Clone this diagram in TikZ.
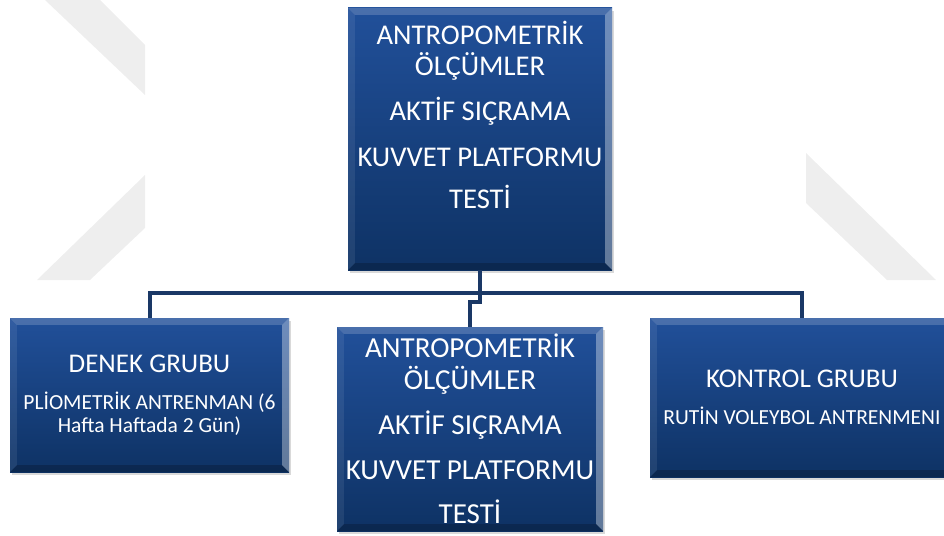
\documentclass[tikz,border=0pt]{standalone}
\usepackage{fontspec}
\setmainfont{Carlito}
\usetikzlibrary{positioning,calc,shadows}

\definecolor{boxtop}{HTML}{21509A}
\definecolor{boxbot}{HTML}{0E3264}
\definecolor{linkblue}{HTML}{1A3866}
\definecolor{wmgray}{HTML}{EEEEEE}

\tikzset{
  blockbox/.style={rectangle, inner sep=0pt, top color=boxtop, bottom color=boxbot,
    drop shadow={shadow xshift=1.5pt, shadow yshift=-3pt, opacity=.3},
    text=white, align=center},
  bigtxt/.style={font=\fontsize{28.6}{31}\selectfont, text=white, align=center, inner sep=0pt},
  smalltxt/.style={font=\fontsize{21.5}{23}\selectfont},
  link/.style={draw=linkblue, line width=4pt}
}

% light and dark rims round a box
\newcommand{\bevel}[1]{%
  \fill[white,opacity=.18] (#1.north west) -- (#1.north east) -- ([shift={(-7,7)}]#1.north east) -- ([shift={(7,7)}]#1.north west) -- cycle;
  \fill[white,opacity=.08] (#1.north west) -- ([shift={(7,7)}]#1.north west) -- ([shift={(7,-7)}]#1.south west) -- (#1.south west) -- cycle;
  \fill[white,opacity=.35] (#1.north east) -- (#1.south east) -- ([shift={(-7,-7)}]#1.south east) -- ([shift={(-7,7)}]#1.north east) -- cycle;
  \fill[black,opacity=.2] (#1.south west) -- ([shift={(7,-7)}]#1.south west) -- ([shift={(-7,-7)}]#1.south east) -- (#1.south east) -- cycle;
}
\newcommand{\headtxt}[1]{{\fontsize{27}{30}\selectfont #1}}

\begin{document}
\begin{tikzpicture}[x=1pt, y=-1pt]
    \useasboundingbox (0,0) rectangle (944,535);
    \clip (0,0) rectangle (944,535);

    % watermark
    \fill[wmgray] (45,0) -- (100,0) -- (145,45) -- (145,95) -- cycle;
    \fill[wmgray] (37,280) -- (90,280) -- (145,228) -- (145,175) -- cycle;
    \fill[wmgray] (806,153) -- (936,280) -- (887,280) -- (806,203) -- cycle;

    % boxes
    \node[blockbox, minimum width=264pt, minimum height=262pt] (olcum1) at (480,139) {};
    \bevel{olcum1}
    \node[bigtxt, below=13pt of olcum1.north] (olcum1txt)
        {ANTROPOMETRİK\\ÖLÇÜMLER\\[14pt]AKTİF SIÇRAMA\\[15pt]KUVVET PLATFORMU\\[11pt]TESTİ};

    \node[blockbox, smalltxt, minimum width=279pt, minimum height=154pt] (denek) at (149.5,395)
        {\headtxt{DENEK GRUBU}\\[14pt]PLİOMETRİK ANTRENMAN (6\\Hafta Haftada 2 Gün)};
    \bevel{denek}

    \node[blockbox, minimum width=266pt, minimum height=204pt,
          font=\fontsize{29}{32}\selectfont] (olcum2) at (470,429)
        {ANTROPOMETRİK\\ÖLÇÜMLER\\[13pt]AKTİF SIÇRAMA\\[13pt]KUVVET PLATFORMU\\[12pt]TESTİ};
    \bevel{olcum2}

    \node[blockbox, smalltxt, minimum width=304pt, minimum height=159pt] (kontrol) at (802,397.5)
        {\headtxt{KONTROL GRUBU}\\[14pt]RUTİN VOLEYBOL ANTRENMENI};
    \bevel{kontrol}

    % connectors
    \coordinate (bus) at (0,293);
    \draw[link] (olcum1.south) -- (olcum1.south |- bus);
    \draw[link] (denek.north) |- (kontrol.north |- bus) -- (kontrol.north);
    \draw[link] (olcum1.south) -- ++(0,32) -| (olcum2.north);
\end{tikzpicture}
\end{document}
